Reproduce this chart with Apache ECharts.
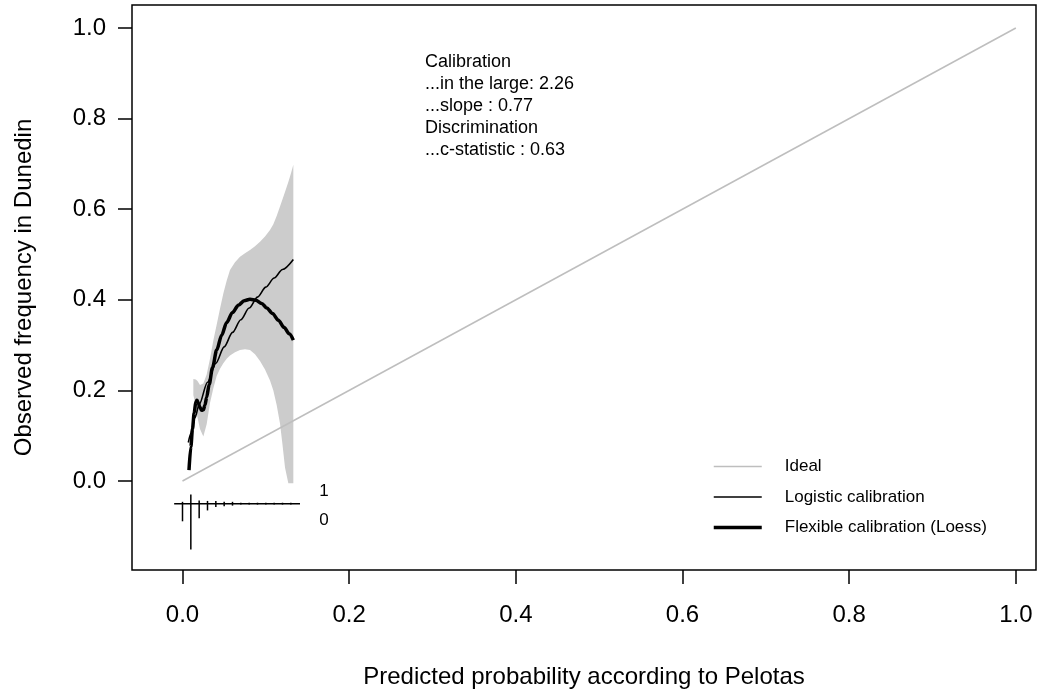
<!DOCTYPE html>
<html>
<head>
<meta charset="utf-8">
<title>Calibration plot</title>
<script src="https://cdn.jsdelivr.net/npm/echarts@6/dist/echarts.min.js"></script>
<style>
  html, body { margin: 0; padding: 0; background: #fff; }
  #chart { width: 1043px; height: 695px; }
</style>
</head>
<body>
<div id="chart"></div>
<script>
var FONT = "'Liberation Sans', Arial, Helvetica, sans-serif"

// axis ticks
var xTicks = [0, 0.2, 0.4, 0.6, 0.8, 1.0]
var yTicks = [0, 0.2, 0.4, 0.6, 0.8, 1.0]

// ideal diagonal
var idealX = [0, 1]
var idealY = [0, 1]

// logistic calibration curve
var logisticX = [0.007, 0.010, 0.015, 0.020, 0.030, 0.040, 0.050, 0.060, 0.070, 0.080, 0.090, 0.100, 0.110, 0.120, 0.133]
var logisticY = [0.085, 0.105, 0.140, 0.169, 0.218, 0.260, 0.296, 0.328, 0.356, 0.382, 0.406, 0.428, 0.448, 0.467, 0.489]

// flexible (loess) calibration curve
var loessX = [0.0078, 0.010, 0.012, 0.014, 0.016, 0.0175, 0.019, 0.021, 0.023, 0.025, 0.027, 0.029, 0.032, 0.036, 0.041, 0.047, 0.053, 0.060, 0.067, 0.074, 0.081, 0.088, 0.095, 0.101, 0.108, 0.115, 0.122, 0.128, 0.133]
var loessY = [0.024, 0.075, 0.115, 0.150, 0.175, 0.178, 0.172, 0.162, 0.156, 0.157, 0.168, 0.185, 0.213, 0.250, 0.289, 0.322, 0.350, 0.372, 0.388, 0.398, 0.401, 0.399, 0.392, 0.382, 0.370, 0.355, 0.339, 0.325, 0.311]

// confidence band around loess
var bandX = [0.013, 0.016, 0.018, 0.021, 0.025, 0.029, 0.033, 0.037, 0.041, 0.045, 0.049, 0.053, 0.057, 0.063, 0.069, 0.075, 0.081, 0.087, 0.093, 0.099, 0.105, 0.109, 0.113, 0.117, 0.120, 0.123, 0.127, 0.130, 0.133]
var bandUpper = [0.225, 0.224, 0.221, 0.212, 0.215, 0.235, 0.270, 0.310, 0.345, 0.380, 0.414, 0.442, 0.466, 0.483, 0.495, 0.503, 0.510, 0.518, 0.528, 0.540, 0.554, 0.567, 0.585, 0.606, 0.622, 0.638, 0.660, 0.678, 0.698]
var bandLower = [0.190, 0.165, 0.140, 0.115, 0.098, 0.125, 0.172, 0.205, 0.232, 0.248, 0.260, 0.270, 0.277, 0.284, 0.289, 0.291, 0.289, 0.280, 0.265, 0.246, 0.222, 0.200, 0.168, 0.127, 0.080, 0.030, -0.005, -0.005, -0.005]

// spike histogram of predictions (up = events, down = non-events)
var histX = [0.00, 0.01, 0.02, 0.03, 0.04, 0.05, 0.06, 0.07, 0.08, 0.09, 0.10, 0.11, 0.12, 0.13]
var histUp = [0.004, 0.020, 0.007, 0.006, 0.006, 0.004, 0.004, 0.002, 0.002, 0.002, 0.002, 0.002, 0.002, 0.002]
var histDown = [0.039, 0.101, 0.032, 0.015, 0.0074, 0.006, 0.0044, 0.002, 0.002, 0.002, 0.002, 0.002, 0.002, 0.002]
var histBase = -0.05
var histSpan = [-0.010, 0.141]
var histLabels = ['1', '0']

var statLines = ['Calibration', '...in the large: 2.26', '...slope : 0.77', 'Discrimination', '...c-statistic : 0.63']

function pairs(xs, ys) {
  return xs.map(function (x, i) { return [x, ys[i]] })
}

var chart = echarts.init(document.getElementById('chart'))

chart.setOption({
  animation: false,
  backgroundColor: '#fff',
  textStyle: { fontFamily: FONT, color: '#000' },
  grid: {
    left: 132, top: 5, width: 904, height: 565,
    show: true, borderColor: '#000', borderWidth: 1.5, backgroundColor: 'transparent'
  },
  xAxis: {
    type: 'value',
    min: -0.0606, max: 1.0242,
    name: 'Predicted probability according to Pelotas',
    nameLocation: 'middle',
    nameGap: 95,
    nameTextStyle: { fontSize: 24, color: '#000', fontFamily: FONT },
    axisLine: { show: false, onZero: false },
    splitLine: { show: false },
    axisTick: { show: true, inside: false, length: 14, customValues: xTicks, lineStyle: { color: '#000', width: 1.5 } },
    axisLabel: {
      customValues: xTicks, margin: 33, fontSize: 24, color: '#000', fontFamily: FONT,
      formatter: function (v) { return v.toFixed(1) }
    }
  },
  yAxis: {
    type: 'value',
    min: -0.1965, max: 1.0508,
    name: 'Observed frequency in Dunedin',
    nameLocation: 'middle',
    nameGap: 96,
    nameTextStyle: { fontSize: 24, color: '#000', fontFamily: FONT },
    axisLine: { show: false, onZero: false },
    splitLine: { show: false },
    axisTick: { show: true, inside: false, length: 14, customValues: yTicks, lineStyle: { color: '#000', width: 1.5 } },
    axisLabel: {
      customValues: yTicks, margin: 26, fontSize: 24, color: '#000', fontFamily: FONT,
      formatter: function (v) { return v.toFixed(1) }
    }
  },
  legend: {
    orient: 'vertical',
    left: 712, top: 458,
    padding: 0,
    itemWidth: 48, itemHeight: 14, itemGap: 13.5,
    selectedMode: false,
    itemStyle: { opacity: 0 },
    textStyle: { fontSize: 17, lineHeight: 17, color: '#000', fontFamily: FONT, padding: [0, 0, 0, 18] },
    data: [
      { name: 'Ideal', lineStyle: { color: '#bebebe', width: 1.5 } },
      { name: 'Logistic calibration', lineStyle: { color: '#000', width: 1.6 } },
      { name: 'Flexible calibration (Loess)', lineStyle: { color: '#000', width: 3.5 } }
    ]
  },
  graphic: [
    {
      type: 'text', left: 425, top: 51, silent: true,
      style: { text: statLines.join('\n'), font: '18px ' + FONT, lineHeight: 22, fill: '#000' }
    },
    {
      type: 'text', x: 324, y: 491, silent: true,
      style: { text: histLabels[0], font: '17px ' + FONT, fill: '#000', textAlign: 'center', textVerticalAlign: 'middle' }
    },
    {
      type: 'text', x: 324, y: 520, silent: true,
      style: { text: histLabels[1], font: '17px ' + FONT, fill: '#000', textAlign: 'center', textVerticalAlign: 'middle' }
    }
  ],
  series: [
    {
      name: 'band',
      type: 'custom',
      silent: true,
      data: [[bandX[0], bandLower[0]]],
      renderItem: function (params, api) {
        var pts = []
        for (var i = 0; i < bandX.length; i++) pts.push(api.coord([bandX[i], bandUpper[i]]))
        for (var j = bandX.length - 1; j >= 0; j--) pts.push(api.coord([bandX[j], bandLower[j]]))
        return { type: 'polygon', shape: { points: pts }, style: { fill: '#cccccc' } }
      },
      z: 1
    },
    {
      name: 'Ideal',
      type: 'line',
      data: pairs(idealX, idealY),
      symbol: 'none',
      silent: true,
      lineStyle: { color: '#bebebe', width: 1.5 },
      itemStyle: { color: '#bebebe' },
      z: 2
    },
    {
      name: 'Logistic calibration',
      type: 'line',
      data: pairs(logisticX, logisticY),
      symbol: 'none',
      smooth: 0.3,
      smoothMonotone: 'x',
      silent: true,
      lineStyle: { color: '#000', width: 1.6 },
      itemStyle: { color: '#000' },
      z: 3
    },
    {
      name: 'Flexible calibration (Loess)',
      type: 'line',
      data: pairs(loessX, loessY),
      symbol: 'none',
      smooth: 0.3,
      smoothMonotone: 'x',
      silent: true,
      lineStyle: { color: '#000', width: 3.5 },
      itemStyle: { color: '#000' },
      z: 4
    },
    {
      name: 'histBaseline',
      type: 'line',
      data: [[histSpan[0], histBase], [histSpan[1], histBase]],
      symbol: 'none',
      silent: true,
      lineStyle: { color: '#000', width: 1.5 },
      z: 3
    },
    {
      name: 'histSpikes',
      type: 'custom',
      silent: true,
      data: histX.map(function (x, i) { return [x, histUp[i], histDown[i]] }),
      encode: { x: 0, y: 1 },
      renderItem: function (params, api) {
        var x = api.value(0)
        var top = api.coord([x, histBase + api.value(1)])
        var bottom = api.coord([x, histBase - api.value(2)])
        return {
          type: 'line',
          shape: { x1: top[0], y1: top[1], x2: bottom[0], y2: bottom[1] },
          style: { stroke: '#000', lineWidth: 1.5 }
        }
      },
      z: 3
    }
  ]
})
</script>
</body>
</html>
